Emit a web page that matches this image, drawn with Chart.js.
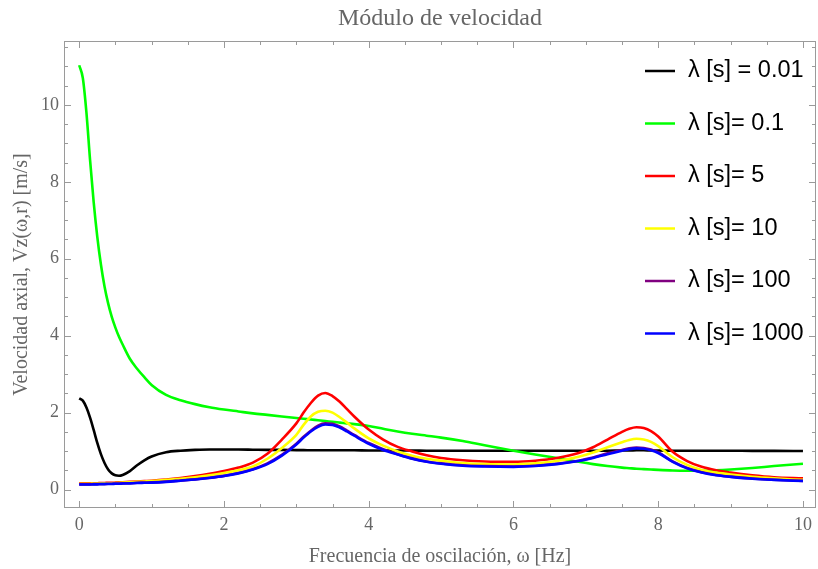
<!DOCTYPE html>
<html><head><meta charset="utf-8">
<script src="https://cdn.jsdelivr.net/npm/chart.js@4/dist/chart.umd.min.js"></script>
<style>html,body{margin:0;padding:0;background:#fff;}#wrap{width:818px;height:569px;}</style>
</head><body><div id="wrap"><canvas id="c" width="818" height="569"></canvas></div>
<script>
const omega = [0,0.05,0.1,0.15,0.2,0.25,0.3,0.35,0.4,0.45,
  0.5,0.55,0.6,0.7,0.8,0.9,1.0,
  1.2,1.4,1.6,1.8,2.0,
  2.2,2.4,2.6,2.8,3.0,
  3.1,3.2,3.3,3.4,3.5,3.6,3.7,3.8,
  4.0,4.2,4.4,4.6,4.8,5.0,
  5.3,5.6,6.0,6.3,6.6,6.9,
  7.1,7.3,7.5,7.6,7.7,7.8,7.9,8.0,
  8.2,8.4,8.6,8.8,9.0,9.3,9.6,10.0];
const lam001 = [2.37,2.31,2.13,1.87,1.55,1.21,0.92,0.69,0.52,0.42,
  0.37,0.36,0.38,0.48,0.63,0.76,0.86,
  0.97,1.01,1.03,1.04,1.04,
  1.04,1.035,1.03,1.03,1.025,
  1.025,1.02,1.02,1.02,1.02,1.02,1.02,1.02,
  1.015,1.015,1.015,1.015,1.01,1.01,
  1.01,1.01,1.01,1.01,1.01,1.01,
  1.01,1.01,1.015,1.015,1.02,1.02,1.015,1.015,
  1.01,1.01,1.01,1.01,1.01,1.005,1.005,1.0];
const lam01 = [11.03,10.7,9.8,8.57,7.47,6.57,5.85,5.28,4.84,4.49,
  4.21,3.97,3.77,3.4,3.14,2.92,2.72,
  2.46,2.32,2.22,2.14,2.08,
  2.03,1.98,1.94,1.9,1.86,
  1.84,1.82,1.8,1.78,1.76,1.74,1.72,1.7,
  1.65,1.58,1.51,1.45,1.4,1.35,
  1.26,1.15,1.01,0.91,0.82,0.72,
  0.66,0.61,0.57,0.555,0.54,0.53,0.52,0.51,
  0.495,0.49,0.49,0.5,0.52,0.56,0.61,0.67];
const lam5 = [0.16,0.16,0.16,0.16,0.165,0.165,0.17,0.17,0.175,0.175,
  0.18,0.185,0.19,0.2,0.21,0.22,0.23,
  0.26,0.3,0.35,0.41,0.48,
  0.57,0.7,0.93,1.3,1.72,
  2.0,2.25,2.44,2.51,2.43,2.28,2.09,1.9,
  1.56,1.3,1.11,0.99,0.89,0.82,
  0.76,0.73,0.72,0.75,0.82,0.95,
  1.1,1.3,1.5,1.58,1.62,1.6,1.52,1.38,
  0.98,0.74,0.59,0.5,0.44,0.37,0.32,0.29];
const lam10 = [0.15,0.15,0.15,0.15,0.155,0.155,0.16,0.16,0.165,0.165,
  0.17,0.175,0.18,0.19,0.2,0.21,0.22,
  0.25,0.28,0.32,0.37,0.43,
  0.5,0.6,0.8,1.08,1.42,
  1.68,1.9,2.02,2.05,2.0,1.88,1.74,1.59,
  1.33,1.14,0.99,0.88,0.8,0.75,
  0.69,0.66,0.65,0.68,0.74,0.85,
  0.96,1.1,1.23,1.29,1.32,1.3,1.24,1.13,
  0.84,0.64,0.51,0.44,0.39,0.33,0.29,0.25];
const lam100 = [0.135,0.135,0.135,0.135,0.14,0.14,0.145,0.145,0.15,0.15,
  0.155,0.155,0.16,0.165,0.175,0.18,0.185,
  0.205,0.235,0.265,0.305,0.355,
  0.43,0.53,0.68,0.9,1.19,
  1.37,1.53,1.66,1.72,1.71,1.64,1.53,1.42,
  1.21,1.05,0.92,0.81,0.73,0.68,
  0.63,0.61,0.6,0.62,0.67,0.75,
  0.83,0.94,1.03,1.07,1.09,1.08,1.04,0.97,
  0.73,0.56,0.45,0.38,0.335,0.285,0.255,0.225];
const lam1000 = [0.13,0.13,0.13,0.13,0.135,0.135,0.14,0.14,0.145,0.145,
  0.15,0.15,0.155,0.16,0.17,0.175,0.18,
  0.2,0.23,0.26,0.3,0.35,
  0.42,0.52,0.66,0.88,1.17,
  1.35,1.51,1.63,1.69,1.68,1.61,1.51,1.4,
  1.19,1.03,0.91,0.8,0.72,0.67,
  0.62,0.6,0.59,0.61,0.66,0.74,
  0.82,0.92,1.01,1.05,1.07,1.06,1.02,0.95,
  0.72,0.55,0.44,0.37,0.33,0.28,0.25,0.22];
const seriesLabels = ['λ [s] = 0.01','λ [s]= 0.1','λ [s]= 5','λ [s]= 10','λ [s]= 100','λ [s]= 1000'];
const seriesColors = ['#000000','#00ff00','#ff0000','#ffff00','#800080','#0000ff'];
const seriesValues = [lam001, lam01, lam5, lam10, lam100, lam1000];
const xTicks = [0,2,4,6,8,10];
const yTicks = [0,2,4,6,8,10];

const frameColor = '#9a9a9a';
const textColor = '#666666';
const serif = '"Liberation Serif","Times New Roman",serif';

const frameTicks = {
  id: 'frameTicks',
  afterDatasetsDraw(chart) {
    const {ctx, chartArea: a, scales: {x, y}} = chart;
    ctx.save();
    ctx.strokeStyle = frameColor; ctx.lineWidth = 1;
    ctx.strokeRect(a.left + 0.5, a.top + 0.5, a.right - a.left - 1, a.bottom - a.top - 1);
    ctx.beginPath();
    for (let k = Math.ceil(x.min * 2); k <= Math.floor(x.max * 2); k++) {
      const v = k / 2, major = xTicks.includes(v), len = major ? 7 : 4;
      const px = Math.round(x.getPixelForValue(v)) + 0.5;
      ctx.moveTo(px, a.bottom); ctx.lineTo(px, a.bottom - len);
      ctx.moveTo(px, a.top); ctx.lineTo(px, a.top + len);
    }
    for (let k = Math.ceil(y.min * 2); k <= Math.floor(y.max * 2); k++) {
      const v = k / 2, major = yTicks.includes(v), len = major ? 7 : 4;
      const py = Math.round(y.getPixelForValue(v)) + 0.5;
      ctx.moveTo(a.left, py); ctx.lineTo(a.left + len, py);
      ctx.moveTo(a.right, py); ctx.lineTo(a.right - len, py);
    }
    ctx.stroke();
    ctx.restore();
  }
};

const lambdaLegend = {
  id: 'lambdaLegend',
  afterDraw(chart) {
    const ctx = chart.ctx;
    ctx.save();
    ctx.font = '23.5px "Liberation Sans", Arial, sans-serif';
    ctx.textBaseline = 'middle';
    ctx.fillStyle = '#000';
    chart.data.datasets.forEach((ds, i) => {
      const yy = 71 + i * 52.5;
      ctx.strokeStyle = ds.borderColor; ctx.lineWidth = 2.5;
      ctx.beginPath(); ctx.moveTo(645, yy); ctx.lineTo(675, yy); ctx.stroke();
      ctx.fillText(ds.label, 688, yy);
    });
    ctx.restore();
  }
};

const datasets = seriesLabels.map((lab, i) => ({
  label: lab,
  data: omega.map((w, j) => ({x: w, y: seriesValues[i][j]})),
  borderColor: seriesColors[i],
  backgroundColor: seriesColors[i],
  borderWidth: 2.6,
  pointRadius: 0,
  cubicInterpolationMode: 'monotone',
  fill: false,
  order: seriesLabels.length - i
}));

new Chart(document.getElementById('c'), {
  type: 'line',
  data: {datasets},
  options: {
    responsive: false,
    devicePixelRatio: 1,
    animation: false,
    layout: {padding: {left: 0, right: 1, top: 0, bottom: 0}},
    plugins: {
      legend: {display: false},
      tooltip: {enabled: false},
      title: {
        display: true, fullSize: false, text: 'Módulo de velocidad', color: textColor,
        font: {family: serif, size: 24, weight: 'normal'},
        padding: {top: 4, bottom: 8.2}
      }
    },
    scales: {
      x: {
        type: 'linear', min: -0.21, max: 10.18,
        afterBuildTicks: s => { s.ticks = xTicks.map(v => ({value: v})); },
        afterFit: s => { s.height = 61; },
        grid: {display: false, drawTicks: false},
        border: {display: false},
        ticks: {color: textColor, font: {family: serif, size: 18}, padding: 6, maxRotation: 0},
        title: {display: true, text: 'Frecuencia de oscilación, ω [Hz]', color: textColor,
          font: {family: serif, size: 20}, padding: {top: 0, bottom: 0}}
      },
      y: {
        type: 'linear', min: -0.48, max: 11.66,
        afterBuildTicks: s => { s.ticks = yTicks.map(v => ({value: v})); },
        afterFit: s => { s.width = 64; },
        grid: {display: false, drawTicks: false},
        border: {display: false},
        ticks: {color: textColor, font: {family: serif, size: 18}, padding: 5},
        title: {display: true, text: 'Velocidad axial, Vz(ω,r) [m/s]', color: textColor,
          font: {family: serif, size: 20}, padding: {top: 10, bottom: 0}}
      }
    }
  },
  plugins: [frameTicks, lambdaLegend]
});
</script></body></html>
